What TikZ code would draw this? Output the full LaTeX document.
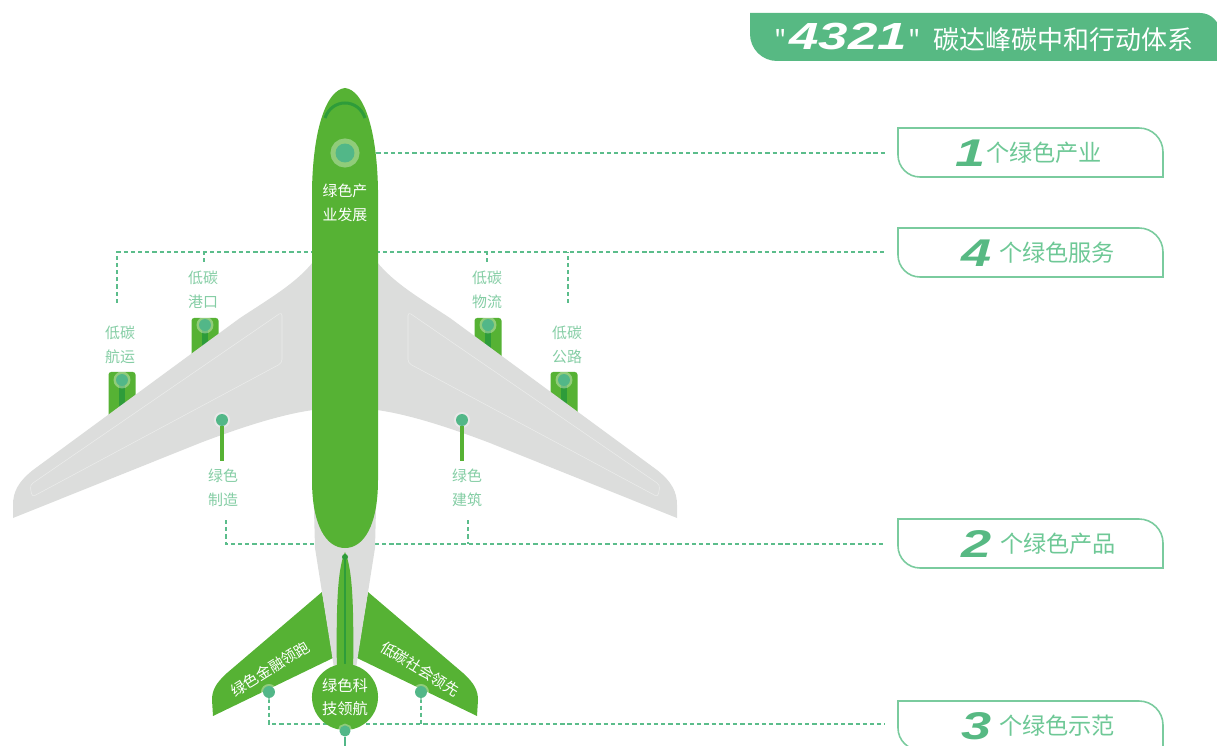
\documentclass[tikz,border=0pt]{standalone}
\usepackage{fontspec}
\newfontfamily\cjk{Noto Sans CJK SC}
\newfontfamily\numfont{Liberation Sans}[FakeStretch=1.4]
\usetikzlibrary{positioning,backgrounds}

\definecolor{planegreen}{HTML}{56B234}
\definecolor{stripe}{HTML}{2E9C3A}
\definecolor{dotteal}{HTML}{52B788}
\definecolor{winggrey}{HTML}{DCDDDC}
\definecolor{bannergreen}{HTML}{57B983}
\definecolor{tagline}{HTML}{7ACB9E}
\definecolor{tagtext}{HTML}{6EC896}
\definecolor{labelgreen}{HTML}{84CDA4}
\definecolor{dashgreen}{HTML}{5BBD8B}

\begin{document}
\begin{tikzpicture}[x=0.02cm, y=0.02cm,
  dashline/.style={draw=dashgreen, line width=0.7pt, dash pattern=on 2.4pt off 1.7pt},
  tag/.style={draw=tagline, line width=0.9pt},
  tagnum/.style={inner sep=0pt, text=bannergreen,
                 font=\numfont\bfseries\itshape\fontsize{22}{22}\selectfont},
  tagtxt/.style={inner sep=0pt, text=tagtext, font=\cjk\fontsize{13.2}{13.2}\selectfont},
  lbl/.style={align=center, inner sep=0pt, text=labelgreen,
              font=\cjk\fontsize{8.5}{13.7}\selectfont},
  wlbl/.style={lbl, text=white},
  engine/.style={fill=planegreen, rounded corners=1.5pt},
  pin/.style 2 args={circle, inner sep=0pt, fill=dotteal, minimum size=#1,
                     preaction={draw=white, draw opacity=0.35, line width=#2}},
  stem/.style={draw=planegreen, line width=2pt},
  hub/.style={circle, fill=planegreen, minimum size=37.6pt, inner sep=0pt,
              align=center, text=white, font=\cjk\fontsize{8.7}{13.2}\selectfont}]
  \useasboundingbox (0,0) rectangle (1217,-746);

  % title banner
  \fill[bannergreen] (750,-13) -- (1200,-13) arc[start angle=90, end angle=0, radius=20]
    -- (1220,-61) -- (777,-61) arc[start angle=270, end angle=180, radius=27] -- cycle;
  \node[anchor=west, inner sep=0pt, text=white] (title) at (774,-37)
    {{\cjk\fontsize{14.8}{14.8}\selectfont "}\hspace{1.5pt}{\numfont\bfseries\itshape\fontsize{21.5}{21.5}\selectfont 4321}\hspace{1pt}{\cjk\fontsize{14.8}{14.8}\selectfont "\hspace{3.5pt} 碳达峰碳中和行动体系}};

  % tags on the right
  \draw[tag] (898,-128) -- (1139,-128) arc[start angle=90, end angle=0, radius=24]
    -- (1163,-177) -- (920,-177) arc[start angle=270, end angle=180, radius=22] -- cycle;
  \node[tagnum, anchor=west] (n1) at (955,-153) {1};
  \node[tagtxt, right=0pt of n1] (t1) {个绿色产业};
  \coordinate (b1) at (885,-153);

  \draw[tag] (898,-228) -- (1139,-228) arc[start angle=90, end angle=0, radius=24]
    -- (1163,-277) -- (920,-277) arc[start angle=270, end angle=180, radius=22] -- cycle;
  \node[tagnum, anchor=west] (n4) at (961,-253) {4};
  \node[tagtxt, right=4pt of n4] (t4) {个绿色服务};
  \coordinate (b2) at (885,-252);

  \draw[tag] (898,-519) -- (1139,-519) arc[start angle=90, end angle=0, radius=24]
    -- (1163,-568) -- (920,-568) arc[start angle=270, end angle=180, radius=22] -- cycle;
  \node[tagnum, anchor=west] (n2) at (961,-544) {2};
  \node[tagtxt, right=4.5pt of n2] (t2) {个绿色产品};
  \coordinate (b3) at (885,-544);

  \draw[tag] (898,-701) -- (1139,-701) arc[start angle=90, end angle=0, radius=24]
    -- (1163,-750) -- (920,-750) arc[start angle=270, end angle=180, radius=22] -- cycle;
  \node[tagnum, anchor=west] (n3) at (961,-726) {3};
  \node[tagtxt, right=4pt of n3] (t3) {个绿色示范};
  \coordinate (b4) at (885,-724);

  % engines
  \fill[engine] (108.5,-372) rectangle (135.5,-442);
  \fill[stripe] (119,-380) rectangle (125,-442);
  \fill[engine] (191.5,-318) rectangle (218.5,-388);
  \fill[stripe] (202,-325) rectangle (208,-388);
  \fill[engine] (474.5,-318) rectangle (501.5,-388);
  \fill[stripe] (485,-325) rectangle (491,-388);
  \fill[engine] (550.5,-372) rectangle (577.5,-442);
  \fill[stripe] (561,-380) rectangle (567,-442);

  % wings
  \fill[winggrey] (313,-262) .. controls (296,-283) and (272,-297) .. (240,-318)
    -- (33,-470) .. controls (18,-482) and (13,-492) .. (13,-505) -- (13,-518)
    -- (200,-443) .. controls (250,-424) and (285,-414) .. (313,-410) -- cycle;
  \fill[winggrey] (377,-262) .. controls (394,-283) and (418,-297) .. (450,-318)
    -- (657,-470) .. controls (672,-482) and (677,-492) .. (677,-505) -- (677,-518)
    -- (490,-443) .. controls (440,-424) and (405,-414) .. (377,-410) -- cycle;
  \draw[white, draw opacity=0.45, line width=0.3pt, rounded corners=2pt]
    (30,-485) -- (282,-312) -- (282,-363) -- (32,-497) -- cycle;
  \draw[white, draw opacity=0.45, line width=0.3pt, rounded corners=2pt]
    (660,-485) -- (408,-312) -- (408,-363) -- (658,-497) -- cycle;

  % tail
  \fill[planegreen] (322,-592) -- (227,-673) .. controls (216,-683) and (212,-690) .. (212,-700)
    -- (213,-716) -- (333,-658) -- cycle;
  \fill[planegreen] (368,-592) -- (463,-673) .. controls (474,-683) and (478,-690) .. (478,-700)
    -- (477,-716) -- (357,-658) -- cycle;
  \fill[winggrey] (313,-470) -- (315,-548) -- (334,-668) -- (356,-668) -- (375,-548)
    -- (377,-470) -- cycle;
  \fill[planegreen] (345,-552) .. controls (337,-570) and (336,-610) .. (337,-680)
    -- (353,-680) .. controls (354,-610) and (353,-570) .. (345,-552) -- cycle;
  \draw[stripe, line width=1.2pt] (345,-556) -- (345,-680);
  \fill[stripe] (345,-557) circle[radius=3];

  % fuselage
  \fill[planegreen] (345,-88) .. controls (326,-90) and (313,-130) .. (312,-190)
    -- (312,-480) .. controls (312,-525) and (326,-548) .. (345,-548)
    .. controls (364,-548) and (378,-525) .. (378,-480) -- (378,-190)
    .. controls (377,-130) and (364,-90) .. (345,-88) -- cycle;
  \draw[stripe, line width=1.7pt] (325,-118) .. controls (332,-98) and (358,-98) .. (365,-118);
  \node[hub] (kj) at (345,-697) {绿色科\\技领航};

  % pins
  \node[pin={10.8pt}{5.7pt}] (nd) at (345,-153) {};
  \node[pin={6.8pt}{2.8pt}] (e1) at (122,-380) {};
  \node[pin={6.8pt}{2.8pt}] (e2) at (205,-325) {};
  \node[pin={6.8pt}{2.8pt}] (e3) at (488,-325) {};
  \node[pin={6.8pt}{2.8pt}] (e4) at (564,-380) {};
  \node[pin={6.8pt}{2.3pt}] (w1) at (222,-420) {};
  \node[pin={6.8pt}{2.3pt}] (w2) at (462,-420) {};
  \draw[stem] (w1) -- (222,-461);
  \draw[stem] (w2) -- (462,-461);
  \node[pin={6.8pt}{2.3pt}] (s1) at (269,-692) {};
  \node[pin={6.8pt}{2.3pt}] (s2) at (421,-692) {};
  \node[pin={6.3pt}{2pt}] (bd) at (345,-731) {};
  \draw[dotteal, line width=0.8pt] (bd) -- (345,-746);

  % labels
  \node[lbl] (hy) at (120,-345) {低碳\\航运};
  \node[lbl] (gk) at (203,-290) {低碳\\港口};
  \node[lbl] (wl) at (487,-290) {低碳\\物流};
  \node[lbl] (gl) at (567,-345) {低碳\\公路};
  \node[lbl] (zz) at (223,-488) {绿色\\制造};
  \node[lbl] (jz) at (467,-488) {绿色\\建筑};
  \node[wlbl] (cy) at (345,-203) {绿色产\\业发展};
  \node[wlbl, rotate=32] (jr) at (270,-669) {绿色金融领跑};
  \node[wlbl, rotate=-32] (sh) at (420,-669) {低碳社会领先};

  % leader lines
  \coordinate (v1) at (117,-303);
  \coordinate (v2) at (204,-262);
  \coordinate (v3) at (487,-262);
  \coordinate (v4) at (568,-303);
  \coordinate (v5) at (226,-520);
  \coordinate (v6) at (468,-520);
  \begin{scope}[on background layer]
    \draw[dashline] (nd) -- (b1);
    \draw[dashline] (v1) |- (b2);
    \draw[dashline] (v2) -- (v2 |- b2);
    \draw[dashline] (v3) -- (v3 |- b2);
    \draw[dashline] (v4) -- (v4 |- b2);
    \draw[dashline] (v5) |- (b3);
    \draw[dashline] (v6) -- (v6 |- b3);
    \draw[dashline] (s1) |- (b4);
    \draw[dashline] (s2) -- (s2 |- b4);
  \end{scope}
\end{tikzpicture}
\end{document}
